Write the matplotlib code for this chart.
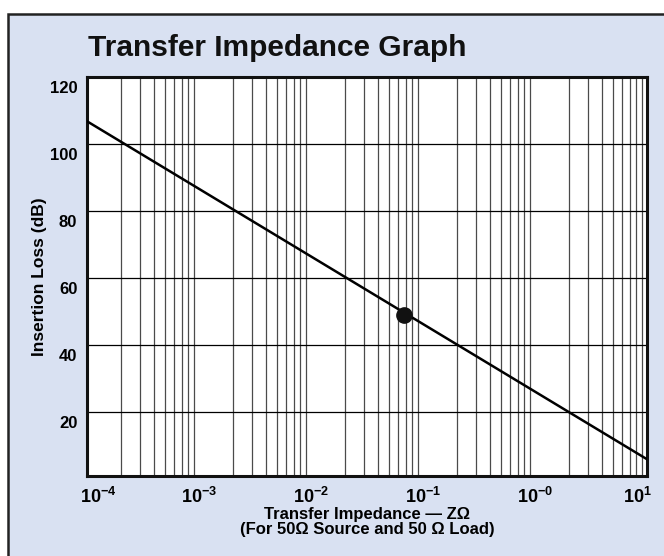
import matplotlib
matplotlib.use("Agg")
import matplotlib.pyplot as plt
import matplotlib.transforms as mtransforms
from matplotlib.patches import Rectangle
from matplotlib.ticker import LogLocator, NullFormatter

# data
line_z = [1e-4, 10.0]          # transfer impedance (ohm)
line_il = [106.8, 6.0]         # insertion loss (dB)
point_z = [0.068]
point_il = [49.1]
x_ticks = [1e-4, 1e-3, 1e-2, 1e-1, 1e0, 1e1]
x_ticklabels = [r"$\mathbf{10^{-4}}$", r"$\mathbf{10^{-3}}$", r"$\mathbf{10^{-2}}$",
                r"$\mathbf{10^{-1}}$", r"$\mathbf{10^{-0}}$", r"$\mathbf{10^{1}}$"]
y_ticks = [20, 40, 60, 80, 100, 120]

plt.rcParams["font.family"] = ["Liberation Sans", "DejaVu Sans"]
plt.rcParams["mathtext.fontset"] = "custom"
plt.rcParams["mathtext.rm"] = "Liberation Sans"
plt.rcParams["mathtext.bf"] = "Liberation Sans:bold"

bg = "#d9e1f2"
fig = plt.figure(figsize=(6.64, 5.56), dpi=100, facecolor="white")

# outer panel with border (runs off right/bottom edge)
fig.patches.append(Rectangle((8 / 664, -0.05), 1.1, 1 - 14 / 556 + 0.05,
                             transform=fig.transFigure, facecolor=bg,
                             edgecolor="#222222", linewidth=1.8, zorder=-10))

ax = fig.add_axes([87 / 664, 1 - 476 / 556, 560 / 664, 399 / 556])
ax.set_facecolor("white")
ax.set_xscale("log")
ax.set_xlim(1e-4, 1e1)
ax.set_ylim(1, 120)

# grid: only the 2..9 lines in each decade, horizontal lines every 20 dB
ax.xaxis.set_minor_locator(LogLocator(base=10, subs=range(2, 10), numticks=20))
ax.xaxis.set_minor_formatter(NullFormatter())
ax.grid(False)
ax.grid(which="minor", axis="x", color="#4a4a4a", linewidth=0.9)
ax.grid(which="major", axis="y", color="black", linewidth=0.9)
ax.set_axisbelow(True)

ax.plot(line_z, line_il, color="black", linewidth=1.8, zorder=3)
ax.plot(point_z, point_il, "o", color="#111111", markersize=11, zorder=4)

ax.set_xticks(x_ticks)
ax.set_xticklabels(x_ticklabels, fontsize=13)
ax.set_yticks(y_ticks)
ax.set_yticklabels([str(v) for v in y_ticks], fontsize=12, fontweight="bold")
ax.tick_params(which="both", length=0)
ax.tick_params(axis="x", pad=8)
ax.tick_params(axis="y", pad=7)

# labels sit a little below their grid lines, as in the original
for lab in ax.get_yticklabels():
    lab.set_transform(lab.get_transform() +
                      mtransforms.ScaledTranslation(0, -7 / 72, fig.dpi_scale_trans))
xl = ax.get_xticklabels()
xl[0].set_transform(xl[0].get_transform() +
                    mtransforms.ScaledTranslation(8 / 72, 0, fig.dpi_scale_trans))
xl[-1].set_transform(xl[-1].get_transform() +
                     mtransforms.ScaledTranslation(-7 / 72, 0, fig.dpi_scale_trans))

for sp in ax.spines.values():
    sp.set_linewidth(2.2)
    sp.set_color("#111111")

ax.set_ylabel("Insertion Loss (dB)", fontsize=12.5, fontweight="bold", labelpad=2)
ax.set_xlabel("Transfer Impedance \u2014 Z\u03a9\n(For 50\u03a9 Source and 50 \u03a9 Load)",
              fontsize=12, fontweight="bold", labelpad=0, linespacing=1.0)

fig.text(88 / 664, 1 - 48 / 556, "Transfer Impedance Graph", fontsize=21.5,
         fontweight="bold", va="center", ha="left", color="#111111")

fig.savefig("out.png", dpi=100, facecolor="white")
